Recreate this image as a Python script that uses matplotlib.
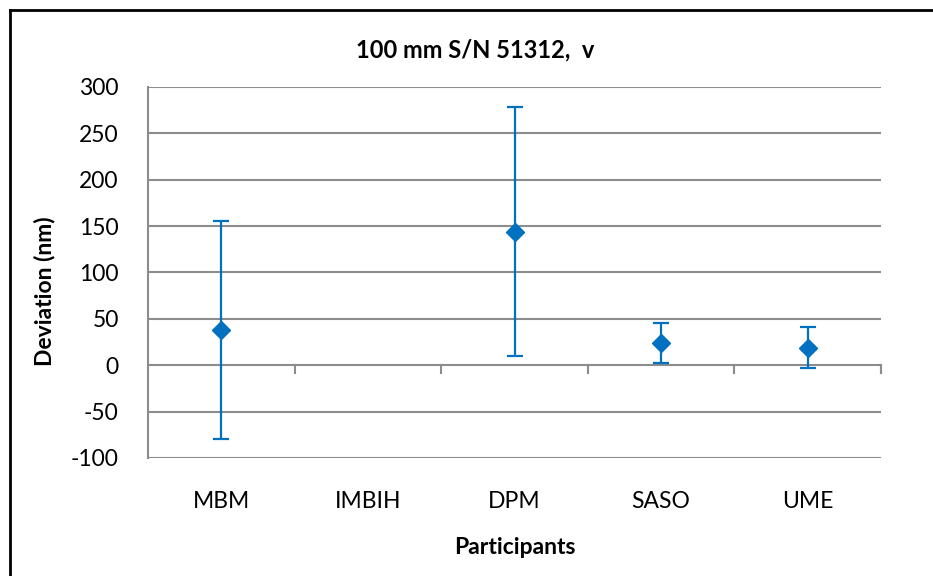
import numpy as np
import matplotlib
matplotlib.use('Agg')
import matplotlib.pyplot as plt
from matplotlib.lines import Line2D

plt.rcParams['font.family'] = ['Lato', 'DejaVu Sans']

participants = ['MBM', 'IMBIH', 'DPM', 'SASO', 'UME']
deviation = [38, np.nan, 144, 24, 19]   # nm, IMBIH has no result
uncert = [117, np.nan, 134, 22, 22]
yticks = [-100, -50, 0, 50, 100, 150, 200, 250, 300]

blue = '#0070C0'
grey = '#8C8C8C'

fig = plt.figure(figsize=(9.33, 5.76), dpi=100)
ax = fig.add_axes([0.1586, 0.2049, 0.7857, 0.6441])

x = np.arange(len(participants))
ax.errorbar(x, deviation, yerr=uncert, fmt='D', color=blue, ms=9.5,
            ecolor=blue, elinewidth=1.6, capsize=5.5, capthick=1.6, zorder=3)

ax.set_xlim(-0.5, len(participants) - 0.5)
ax.set_ylim(-100, 300)
ax.set_yticks(yticks)
ax.set_yticklabels([str(v) for v in yticks], fontsize=16.5)
ax.set_xticks(x)
ax.set_xticklabels(participants, fontsize=16.5)
ax.tick_params(axis='y', length=0, pad=21)
ax.tick_params(axis='x', length=0, pad=24)

# gridlines, Excel style
for v in yticks:
    ax.axhline(v, color=grey, lw=1.5, zorder=1)
for s in ['top', 'right', 'bottom']:
    ax.spines[s].set_visible(False)
ax.spines['left'].set_color(grey)
ax.spines['left'].set_linewidth(1.5)

# category boundary ticks on the zero line
for b in np.arange(0.5, len(participants), 1.0):
    ax.plot([b, b], [0, -8], color=grey, lw=1.5, clip_on=False, zorder=1)
ax.plot([len(participants) - 0.5] * 2, [0, -8], color=grey, lw=1.5, clip_on=False)

# title is centred on the whole chart, not the plot area
fig.text(475 / 933, 1 - 50 / 576, '100 mm S/N 51312,  v', fontsize=17, fontweight='bold',
         ha='center', va='center')
ax.set_ylabel('Deviation (nm)', fontsize=16.5, fontweight='bold')
ax.yaxis.set_label_coords(-0.127, 0.45)
ax.set_xlabel('Participants', fontsize=16.5, fontweight='bold', labelpad=18)

# chart frame (left and top edge visible)
fig.add_artist(Line2D([10 / 933, 10 / 933], [0, 1 - 10 / 576], color='black', lw=2))
fig.add_artist(Line2D([10 / 933, 1], [1 - 10 / 576, 1 - 10 / 576], color='black', lw=2))

fig.savefig('out.png', dpi=100)
